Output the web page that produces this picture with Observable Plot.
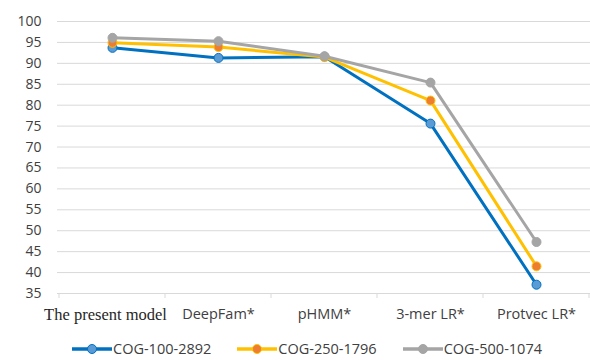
<!DOCTYPE html>
<html>
<head>
<meta charset="utf-8">
<script src="https://cdn.jsdelivr.net/npm/d3@7"></script>
<script src="https://cdn.jsdelivr.net/npm/@observablehq/plot@0.6"></script>
<style>
  body { margin: 0; background: #fff; font-family: "Open Sans", sans-serif; }
  #chart { width: 590px; }
  .legend { display: flex; justify-content: flex-start; gap: 26px; height: 35px; padding-top: 6px; padding-left: 72px; align-items: center; font-size: 14.5px; color: #404040; }
  .legend span { display: inline-flex; align-items: center; gap: 1px; }
  .legend svg { display: block; }
</style>
</head>
<body>
<div id="chart"></div>
<script>
const categories = ["The present model", "DeepFam*", "pHMM*", "3-mer LR*", "Protvec LR*"];
const seriesNames = ["COG-100-2892", "COG-250-1796", "COG-500-1074"];
const cog100 = [93.7, 91.3, 91.6, 75.6, 37.1];
const cog250 = [94.9, 93.9, 91.5, 81.1, 41.5];
const cog500 = [96.1, 95.3, 91.7, 85.4, 47.3];
const yTicks = [35, 40, 45, 50, 55, 60, 65, 70, 75, 80, 85, 90, 95, 100];

const lineColors = ["#0070C0", "#FFC000", "#A5A5A5"];
const markerColors = ["#5B9BD5", "#ED7D31", "#A5A5A5"];

const seriesValues = [cog100, cog250, cog500];
const data = seriesValues.flatMap((vals, s) =>
  vals.map((v, i) => ({series: seriesNames[s], category: categories[i], value: v})));

const marks = [
  Plot.gridY(yTicks, {stroke: "#d9d9d9", strokeOpacity: 1, strokeWidth: 1}),
  Plot.axisY(yTicks, {tickSize: 0, tickPadding: 16, fontSize: 14, fill: "#404040", fontFamily: "Open Sans"}),
  Plot.axisX({tickSize: 0, tickPadding: 15, fontSize: 14.5, fill: "#404040", fontFamily: "Open Sans"})
];
seriesNames.forEach((name, s) => {
  const d = data.filter(r => r.series === name);
  marks.push(Plot.line(d, {x: "category", y: "value", stroke: lineColors[s], strokeWidth: 3}));
  marks.push(Plot.dot(d, {x: "category", y: "value", r: 4.5, fill: markerColors[s], stroke: lineColors[s], strokeWidth: 1}));
});

const plot = Plot.plot({
  width: 590,
  height: 325,
  marginLeft: 57,
  marginRight: 0,
  marginTop: 21,
  marginBottom: 32,
  style: {background: "#fff", overflow: "visible"},
  x: {type: "point", domain: categories, padding: 0.5, label: null},
  y: {domain: [35, 100], label: null},
  marks
});

// Tick marks at category boundaries, placed with the plot's own x scale
const xs = plot.scale("x");
const step = xs.apply(categories[1]) - xs.apply(categories[0]);
const yAxisPos = plot.scale("y").apply(35);
const g = d3.select(plot).append("g").attr("stroke", "#d9d9d9");
[...categories.map(c => xs.apply(c) - step / 2), xs.apply(categories[categories.length - 1]) + step / 2]
  .forEach(x => g.append("line").attr("x1", x).attr("x2", x).attr("y1", yAxisPos).attr("y2", yAxisPos + 5));

// First category label is set in a serif face, as in the reference
d3.select(plot).selectAll("[aria-label='x-axis tick label'] text").each(function() {
  if (d3.select(this).text() === categories[0]) {
    d3.select(this).attr("font-family", "Liberation Serif").attr("font-size", 16.5).attr("fill", "#262626").attr("dx", -7);
  }
});

document.getElementById("chart").appendChild(plot);

const legend = document.createElement("div");
legend.className = "legend";
seriesNames.forEach((name, s) => {
  const item = document.createElement("span");
  item.innerHTML = `<svg width="40" height="12"><line x1="0" x2="40" y1="6" y2="6" stroke="${lineColors[s]}" stroke-width="3.5"/><circle cx="20" cy="6" r="4.5" fill="${markerColors[s]}" stroke="${lineColors[s]}"/></svg>${name}`;
  legend.appendChild(item);
});
document.getElementById("chart").appendChild(legend);
</script>
</body>
</html>
